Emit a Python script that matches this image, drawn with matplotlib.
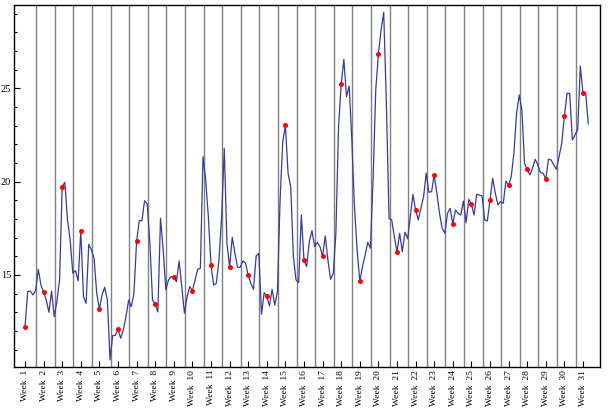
import matplotlib
matplotlib.use('Agg')
import matplotlib.pyplot as plt
import numpy as np

# daily values (31 weeks)
values = [
    12.20, 14.11, 14.14, 13.93, 14.16, 15.30, 14.46,
    14.07, 13.66, 13.00, 14.14, 12.77, 13.57, 14.73,
    19.73, 19.97, 17.95, 16.87, 15.09, 15.23, 14.68,
    17.36, 13.84, 13.48, 16.64, 16.34, 15.89, 14.02,
    13.16, 13.93, 14.34, 13.66, 10.45, 11.75, 11.77,
    12.09, 11.61, 12.05, 12.77, 13.66, 13.30, 14.02,
    16.80, 17.91, 17.91, 18.98, 18.80, 16.70, 13.66,
    13.45, 13.02, 18.04, 16.34, 14.20, 14.73, 14.91,
    14.88, 14.64, 15.75, 14.38, 12.95, 13.84, 14.38,
    14.16, 14.73, 15.30, 15.36, 21.34, 20.09, 18.12,
    15.54, 14.46, 14.55, 15.80, 18.12, 21.79, 16.70,
    15.41, 17.02, 16.16, 15.41, 15.41, 15.75, 15.63,
    14.98, 14.55, 14.23, 16.02, 16.16, 12.89, 14.05,
    13.86, 13.34, 14.23, 13.39, 14.11, 19.02, 22.14,
    23.02, 20.45, 19.73, 15.98, 14.73, 14.59, 18.21,
    15.79, 15.45, 16.78, 17.37, 16.52, 16.75, 16.52,
    16.00, 17.09, 15.80, 14.77, 15.09, 17.23, 22.94,
    25.21, 26.55, 24.55, 25.12, 22.23, 18.66, 16.34,
    14.66, 15.45, 16.05, 16.75, 16.43, 20.09, 24.91,
    26.82, 28.12, 29.07, 24.20, 18.04, 17.95, 17.05,
    16.22, 17.23, 16.25, 17.29, 16.95, 18.12, 19.32,
    18.47, 17.95, 18.57, 19.19, 20.45, 19.43, 19.46,
    20.34, 19.38, 18.30, 17.50, 17.23, 18.30, 18.57,
    17.72, 18.48, 18.30, 18.21, 18.96, 17.80, 19.05,
    18.79, 18.21, 19.32, 19.28, 19.23, 17.95, 17.89,
    19.00, 20.18, 19.38, 18.75, 18.93, 18.84, 20.03,
    19.80, 20.27, 21.52, 23.66, 24.64, 23.84, 20.98,
    20.66, 20.36, 20.71, 21.20, 20.89, 20.48, 20.45,
    20.13, 21.20, 21.16, 20.89, 20.66, 21.34, 22.05,
    23.50, 24.73, 24.73, 22.23, 22.50, 22.77, 26.19,
    24.73, 24.77, 23.09,
]
week_labels = ['Week  %d' % w for w in range(1, 32)]

days = np.arange(len(values))
week_days = days[::7]
week_values = np.array(values)[::7]

fig = plt.figure(figsize=(6.10, 4.13), dpi=100)
ax = fig.add_axes([14 / 610, 1 - 367 / 413, 586 / 610, 362 / 413])

# vertical separators between weeks
for g in np.arange(0, 30) * 7 + 4.2:
    ax.axvline(g, color='#808080', lw=1.0, zorder=1)

ax.plot(days, values, color='#3b3b98', lw=0.9, zorder=2)
ax.plot(week_days, week_values, 'o', color='#ff0000', ms=3.6, mec='none', zorder=3)

ax.set_xlim(-4.14, 216.4)
ax.set_ylim(10.07, 29.46)

ax.set_xticks(week_days)
ax.set_xticklabels(week_labels, rotation=90, fontsize=6.8, family='Liberation Serif')
ax.set_yticks([15, 20, 25])
ax.set_yticks(np.arange(11, 30), minor=True)
ax.set_yticklabels(['15', '20', '25'], fontsize=7.5, family='Liberation Serif')

ax.tick_params(axis='both', which='major', direction='in', length=4, width=0.8, pad=2)
ax.tick_params(axis='y', which='minor', direction='in', length=2.2, width=0.8)
for s in ax.spines.values():
    s.set_linewidth(1.0)

plt.savefig('out.png', dpi=100)
